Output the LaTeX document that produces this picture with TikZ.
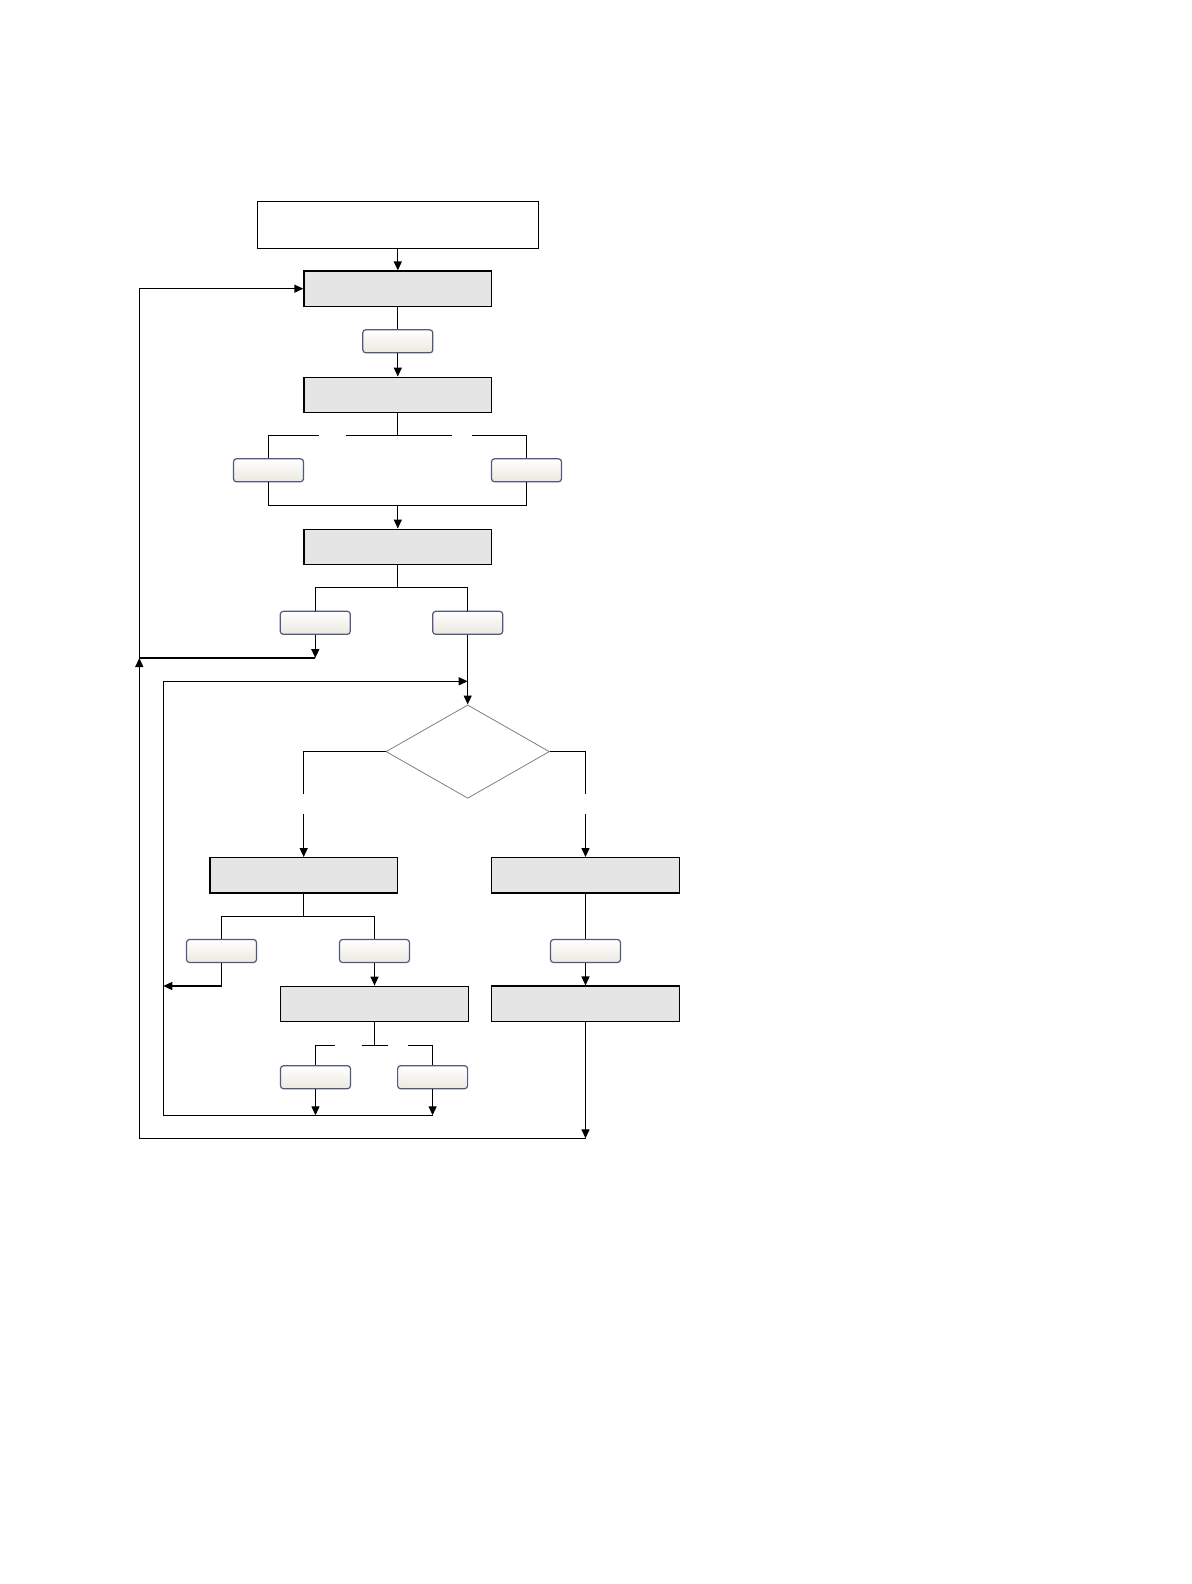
\documentclass[tikz,border=0pt]{standalone}
\usetikzlibrary{arrows.meta,shapes.geometric}
\definecolor{boxgray}{RGB}{229,229,229}
\definecolor{tagedge}{RGB}{80,90,125}
\definecolor{tagbot}{RGB}{236,232,225}
\tikzset{
  ln/.style={line width=0.65pt,black},
  arr/.style={ln,-{Triangle[length=4.5pt,width=4pt]}},
  gbox/.style={draw=black,line width=0.65pt,fill=boxgray,minimum width=93.8pt,minimum height=17.6pt,inner sep=0pt},
  wbox/.style={draw=black,line width=0.65pt,fill=white,minimum width=140.5pt,minimum height=23.3pt,inner sep=0pt},
  tag/.style={draw=tagedge,line width=0.6pt,rounded corners=1.5pt,top color=white,bottom color=tagbot,minimum width=35pt,minimum height=11.5pt,inner sep=0pt},
  dec/.style={shape=diamond,draw=gray,line width=0.4pt,fill=white,minimum width=81.7pt,minimum height=46.7pt,inner sep=0pt}
}
\begin{document}
\begin{tikzpicture}[x=0.5pt,y=-0.5pt]
\useasboundingbox[fill=white] (0,0) rectangle (1192,1584);
% main boxes
\node[wbox] (top) at (397.8,225) {};
\node[gbox] (b1) at (397.8,288.7) {};
\node[gbox] (b2) at (397.8,394.8) {};
\node[gbox] (b3) at (397.8,546.8) {};
\node[gbox] (b4) at (303.7,875.3) {};
\node[gbox,minimum width=94.2pt] (b5) at (374.5,1003.9) {};
\node[gbox] (b6) at (585.5,875.3) {};
\node[gbox] (b7) at (585.5,1003.7) {};
\node[dec] (d) at (467.7,751.6) {};
% tags
\node[tag] (s1) at (397.8,341.3) {};
\node[tag] (s2L) at (268.5,470.3) {};
\node[tag] (s2R) at (526.5,470.3) {};
\node[tag] (s3L) at (315.3,622.8) {};
\node[tag] (s3R) at (467.7,622.8) {};
\node[tag] (s4L) at (221.5,951) {};
\node[tag] (s4R) at (374.5,951) {};
\node[tag] (s6) at (585.5,951) {};
\node[tag] (s5L) at (315.5,1077.2) {};
\node[tag] (s5R) at (432.6,1077.2) {};
% junction coordinates
\coordinate (j2) at (397.8,435.3);
\coordinate (j2L) at (268.5,435.3);
\coordinate (j2R) at (526.5,435.3);
\coordinate (g2a) at (319,435.3);
\coordinate (g2b) at (346,435.3);
\coordinate (g2c) at (452,435.3);
\coordinate (g2d) at (472,435.3);
\coordinate (m2) at (397.8,505.3);
\coordinate (m2L) at (268.5,505.3);
\coordinate (m2R) at (526.5,505.3);
\coordinate (j3) at (397.8,587.3);
\coordinate (j3L) at (315.3,587.3);
\coordinate (j3R) at (467.7,587.3);
\coordinate (e3L) at (315.3,658);
\coordinate (lpA) at (139.3,658);
\coordinate (lpB) at (139.3,288.7);
\coordinate (lpC) at (139.3,1138.3);
\coordinate (bot) at (585.5,1138.3);
\coordinate (lqA) at (163.3,681.3);
\coordinate (lqB) at (467.7,681.3);
\coordinate (lqC) at (163.3,1115.3);
\coordinate (dl) at (303.7,751.6);
\coordinate (dlg1) at (303.7,794);
\coordinate (dlg2) at (303.7,814);
\coordinate (dr) at (585.5,751.6);
\coordinate (drg1) at (585.5,794);
\coordinate (drg2) at (585.5,814);
\coordinate (j4) at (303.7,916.3);
\coordinate (j4L) at (221.5,916.3);
\coordinate (j4R) at (374.5,916.3);
\coordinate (e4L) at (221.5,986);
\coordinate (e4M) at (163.3,986);
\coordinate (j5) at (374.5,1045.3);
\coordinate (j5a) at (362,1045.3);
\coordinate (j5b) at (388,1045.3);
\coordinate (j5L) at (315.5,1045.3);
\coordinate (j5La) at (334.7,1045.3);
\coordinate (j5R) at (432.6,1045.3);
\coordinate (j5Ra) at (408,1045.3);
\coordinate (e5L) at (315.5,1115.3);
\coordinate (e5R) at (432.6,1115.3);
% connectors
\draw[arr] (top.south) -- (b1.north);
\draw[ln] (b1.south) -- (s1.north);
\draw[arr] (s1.south) -- (b2.north);
\draw[ln] (b2.south) -- (j2);
\draw[ln] (j2L) -- (g2a);
\draw[ln] (g2b) -- (g2c);
\draw[ln] (g2d) -- (j2R);
\draw[ln] (j2L) -- (s2L.north);
\draw[ln] (j2R) -- (s2R.north);
\draw[ln] (s2L.south) -- (m2L) -- (m2R) -- (s2R.south);
\draw[arr] (m2) -- (b3.north);
\draw[ln] (b3.south) -- (j3);
\draw[ln] (s3L.north) -- (j3L) -- (j3R) -- (s3R.north);
\draw[arr] (s3L.south) -- (e3L);
\draw[ln] (e3L) -- (lpA);
\draw[arr] (s3R.south) -- (d.north);
\draw[arr] (lqC) -- (lqA) -- (lqB);
\draw[ln] (d.west) -- (dl) -- (dlg1);
\draw[arr] (dlg2) -- (b4.north);
\draw[ln] (d.east) -- (dr) -- (drg1);
\draw[arr] (drg2) -- (b6.north);
\draw[ln] (b4.south) -- (j4);
\draw[ln] (s4L.north) -- (j4L) -- (j4R) -- (s4R.north);
\draw[arr] (s4L.south) -- (e4L) -- (e4M);
\draw[arr] (s4R.south) -- (b5.north);
\draw[ln] (b6.south) -- (s6.north);
\draw[arr] (s6.south) -- (b7.north);
\draw[ln] (b5.south) -- (j5);
\draw[ln] (j5a) -- (j5b);
\draw[ln] (s5L.north) -- (j5L) -- (j5La);
\draw[ln] (s5R.north) -- (j5R) -- (j5Ra);
\draw[arr] (s5L.south) -- (e5L);
\draw[arr] (s5R.south) -- (e5R);
\draw[ln] (lqC) -- (e5R);
\draw[arr] (b7.south) -- (bot);
\draw[arr] (bot) -- (lpC) -- (lpA);
\draw[arr] (lpA) -- (lpB) -- (b1.west);
\end{tikzpicture}
\end{document}
